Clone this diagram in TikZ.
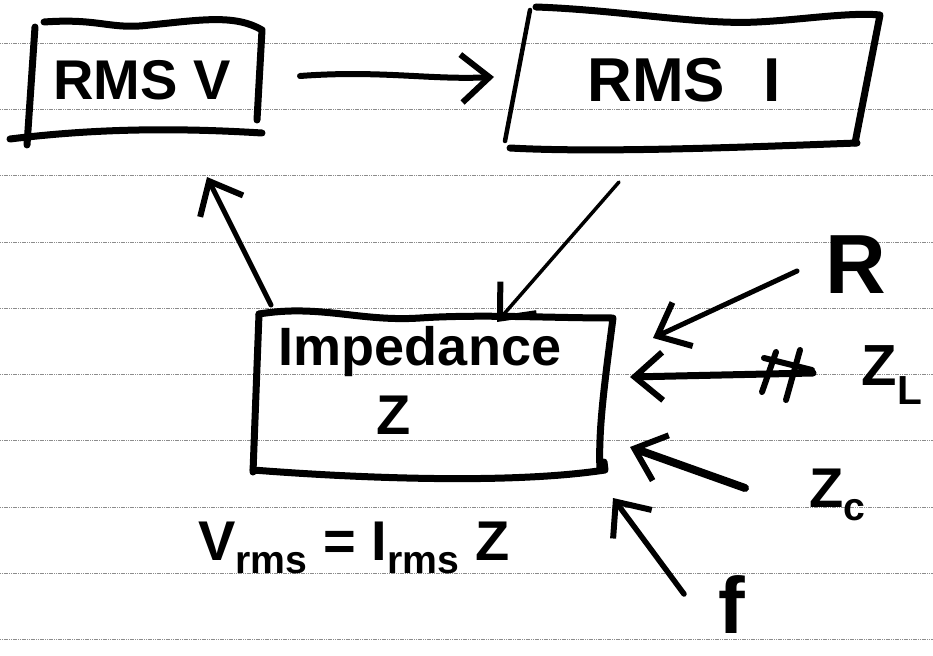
\documentclass[tikz,border=0pt]{standalone}
\usepackage{fontspec}
\setmainfont{Liberation Sans}
\usetikzlibrary{arrows.meta}
\tikzset{
  pen/.style={line width=7pt, line cap=round, line join=round},
  thinpen/.style={line width=3pt, line cap=round},
  barb/.style={-{Straight Barb[length=28pt, width=48pt, line width=6pt]}},
  ruling/.style={line width=0.7pt, color=black!45, dash pattern=on 1.2pt off 0.6pt},
  hand/.style={inner sep=0pt, font=\bfseries\fontsize{56}{58}\selectfont}
}
\begin{document}
\begin{tikzpicture}[x=1pt, y=-1pt]
		%%%%% START %%%%%
		\useasboundingbox (0,0) rectangle (933,655);
		\fill[white] (0,0) rectangle (933,655);
		
		% ruled paper
		\foreach \k in {0,...,9}
			\draw[ruling] (0,{43+66.3*\k}) -- (933,{43+66.3*\k});
		
		% box RMS V
		\draw[pen] (44,22) .. controls (100,18) and (110,30) .. (150,25) .. controls (200,20) and (235,14) .. (262,30) -- (257,120);
		\draw[pen] (35,27) -- (27,145);
		\draw[pen] (10,139) .. controls (100,128) and (180,128) .. (262,133);
		\node[hand] (rmsV) at (142,80) {RMS V};
		
		% box RMS I
		\draw[pen] (536,7) .. controls (620,10) and (700,25) .. (757,22) .. controls (800,20) and (850,12) .. (880,15) -- (855,143);
		\draw[thinpen, line width=4.5pt] (530,10) -- (505,141);
		\draw[pen] (510,148) .. controls (600,153) and (750,147) .. (857,143);
		\node[hand, font=\bfseries\fontsize{62}{64}\selectfont] (rmsI) at (684,80) {RMS\,\, I};
		
		% box Impedance
		\draw[pen] (259,314) .. controls (320,304) and (360,322) .. (420,318) .. controls (480,314) and (550,318) .. (613,318) .. controls (605,380) and (598,430) .. (600,470);
		\draw[pen] (259,314) -- (253,472);
		\draw[pen] (253,470) .. controls (330,476) and (500,486) .. (605,470) -- (604,462);
		\node[hand, font=\bfseries\fontsize{54}{56}\selectfont] (imp) at (420,352) {Impedance};
		\node[hand] (impZ) at (394,415) {Z};
		
		% labels on the right
		\node[hand, font=\bfseries\fontsize{84}{86}\selectfont] (labR) at (856,265) {R};
		\node[hand, font=\bfseries\fontsize{58}{60}\selectfont] (labZL) at (892,375) {Z\textsubscript{L}};
		\node[hand, font=\bfseries\fontsize{56}{58}\selectfont] (labZC) at (838,495) {Z\textsubscript{c}};
		\node[hand, font=\bfseries\fontsize{80}{82}\selectfont] (labf) at (732,605) {f};
		\node[hand] (law) at (354,548) {V\textsubscript{rms} = I\textsubscript{rms} Z};
		
		% arrow ends
		\coordinate (vOut) at (300,76);
		\coordinate (iIn) at (494,77);
		\coordinate (iOut) at (619,182);
		\coordinate (zTop) at (497,322);
		\coordinate (zOut) at (271,305);
		\coordinate (vIn) at (207,177);
		\coordinate (rOut) at (797,271);
		\coordinate (rIn) at (653,338);
		\coordinate (lOut) at (813,373);
		\coordinate (lIn) at (630,377);
		\coordinate (cOut) at (745,488);
		\coordinate (cIn) at (630,447);
		\coordinate (fOut) at (684,594);
		\coordinate (fIn) at (613,498);
		
		\draw[thinpen, line width=6pt, barb] (vOut) .. controls (380,70) and (430,80) .. (iIn);
		\draw[thinpen, line width=3.5pt, barb] (iOut) -- (zTop);
		\draw[thinpen, line width=5pt, barb] (zOut) -- (vIn);
		\draw[thinpen, line width=5pt, barb] (rOut) -- (rIn);
		\draw[pen, barb] (lOut) -- (lIn);
		\draw[pen, line width=8pt, barb] (cOut) -- (cIn);
		\draw[thinpen, line width=5.5pt, barb] (fOut) -- (fIn);
		
		% scribble on the Z_L arrow
		\draw[thinpen, line width=6pt] (762,392) -- (776,352);
		\draw[thinpen, line width=6pt] (786,400) -- (800,350);
		\draw[thinpen, line width=6pt] (764,358) -- (812,370);
		%%%%% END %%%%%
	\end{tikzpicture}
\end{document}
